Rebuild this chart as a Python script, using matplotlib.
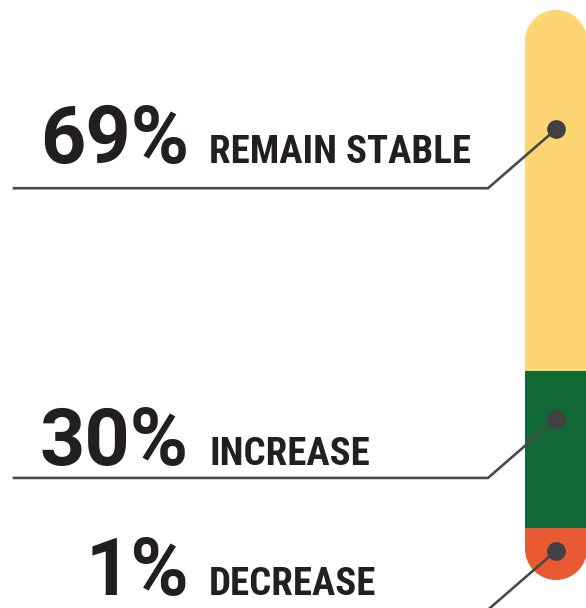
import numpy as np
import matplotlib
matplotlib.use('Agg')
import matplotlib.pyplot as plt
from matplotlib import font_manager
from matplotlib.patches import Rectangle, Ellipse

# Survey shares, top to bottom of the bar
shares = [69, 30, 1]
numbers = ['69%', '30%', '1%']
labels = ['REMAIN STABLE', 'INCREASE', 'DECREASE']
colors = ['#FDD673', '#106837', '#E95A33']

# Where each callout dot sits along the bar (percent units from the top)
dot_pos = [22.8, 78.2, 103.4]

W, H = 586, 608
MIN_SEG = 10          # tiny segments still get room for the rounded cap
TEXT = '#231F20'
LEADER = '#4A494B'
DOT = '#414042'

available = {f.name for f in font_manager.fontManager.ttflist}


def pick(*names):
    for n in names:
        if n in available:
            return n
    return 'DejaVu Sans'


num_font = pick('Roboto', 'Liberation Sans', 'DejaVu Sans')
label_font = pick('Roboto Condensed', 'Liberation Sans Narrow', 'Roboto')

fig = plt.figure(figsize=(W / 100, H / 100), dpi=100)
fig.patch.set_facecolor('white')

# ---- stacked bar with rounded ends ----
bar_left, bar_w, bar_top, bar_bottom = 525, 62, 10, 580
ax_bar = fig.add_axes([bar_left / W, (H - bar_bottom) / H,
                       bar_w / W, (bar_bottom - bar_top) / H])
heights = [max(s, MIN_SEG) for s in shares]
total = sum(heights)
ax_bar.set_xlim(0, 1)
ax_bar.set_ylim(total, 0)
ax_bar.axis('off')

# cap radius expressed in y data units
ry = (bar_w / 2) * total / (bar_bottom - bar_top)

# segment bounds, then drawn bottom-up so each cap hides under the segment above
bounds = np.concatenate([[0], np.cumsum(heights)])
n = len(heights)
for i in reversed(range(n)):
    y0, y1, c = bounds[i], bounds[i + 1], colors[i]
    if i == 0:
        ax_bar.add_patch(Ellipse((0.5, y0 + ry), 1, 2 * ry, color=c, lw=0))
        y0 += ry
    if i == n - 1:
        ax_bar.add_patch(Ellipse((0.5, y1 - ry), 1, 2 * ry, color=c, lw=0))
        y1 -= ry
    ax_bar.add_patch(Rectangle((0, y0), 1, y1 - y0, color=c, lw=0))

# ---- overlay in pixel space for labels and leaders ----
ax = fig.add_axes([0, 0, 1, 1])
ax.set_xlim(0, W)
ax.set_ylim(H, 0)
ax.patch.set_alpha(0)
ax.axis('off')

to_px = ax.transData.inverted()
line_x0, elbow_x, drop = 14, 488, 59
num_right, label_left = 189, 209
baselines = [163, 465, 595]

for num, lab, dp, base in zip(numbers, labels, dot_pos, baselines):
    px, py = to_px.transform(ax_bar.transData.transform((0.5, dp)))
    ly = py + drop
    ax.plot([line_x0, elbow_x, px], [ly, ly, py], color=LEADER, lw=1.9,
            solid_joinstyle='miter', zorder=3)
    ax.plot([px], [py], 'o', color=DOT, ms=13.5, mew=0, zorder=4)

    ax.text(num_right, base, num, ha='right', va='baseline',
            fontsize=57, fontweight='bold', family=num_font, color=TEXT)
    ax.text(label_left, base, lab, ha='left', va='baseline',
            fontsize=28, fontweight='bold', family=label_font, color=TEXT)

fig.savefig('out.png', dpi=100, facecolor='white')
